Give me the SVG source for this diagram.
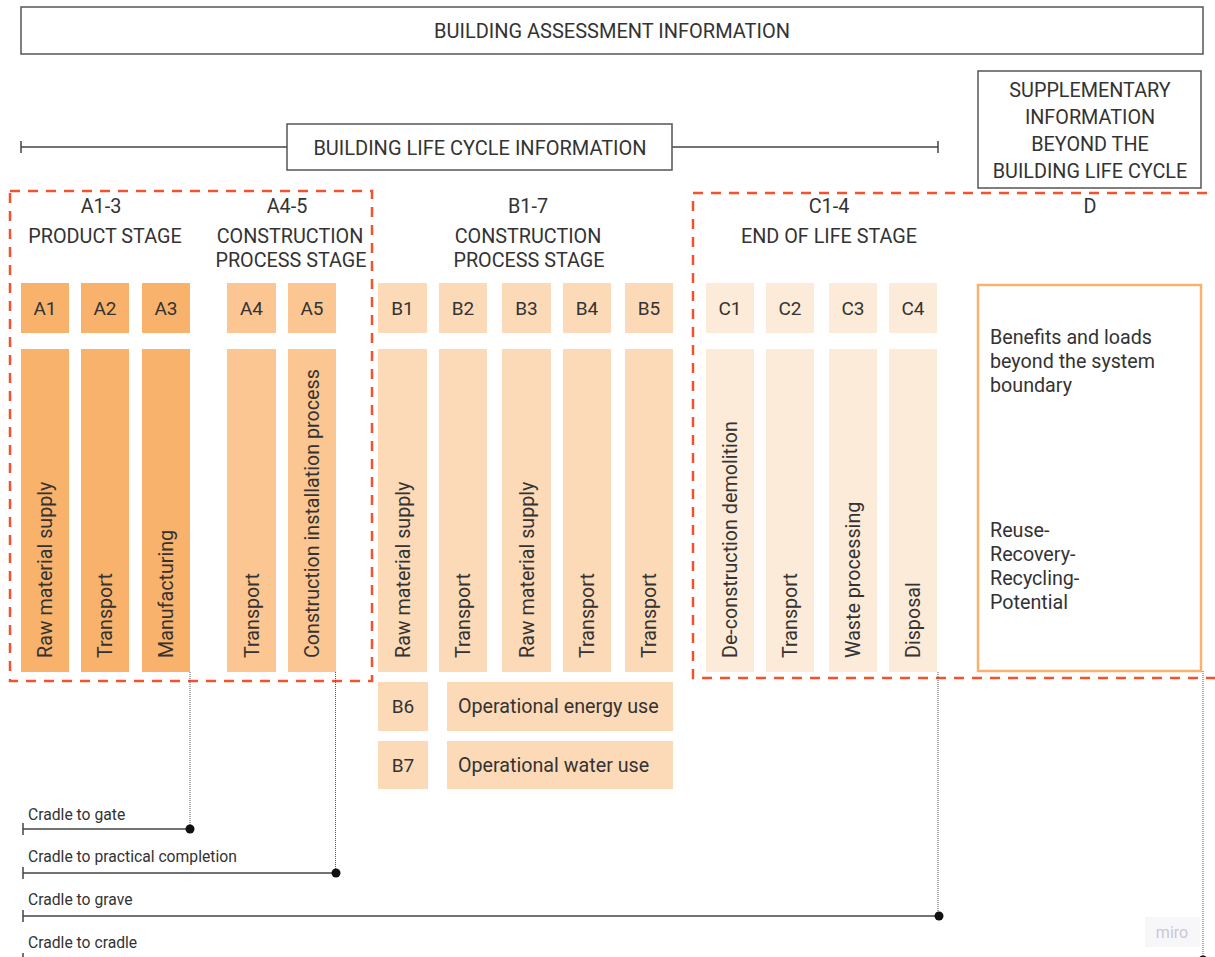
<svg xmlns="http://www.w3.org/2000/svg" width="1215" height="957" viewBox="0 0 1215 957">
<style>
text{font-family:Roboto,"Liberation Sans",sans-serif;fill:#333}
.h{font-size:19.8px;text-anchor:middle}
.t{font-size:19.7px}
.lb{font-size:19px;text-anchor:middle}
.v{font-size:19.7px}
.sm{font-size:15.7px}
.frame{fill:#fff;stroke:#555;stroke-width:1.5}
.ln{stroke:#444;stroke-width:1.5;fill:none}
.dot{stroke:#555;stroke-width:1;stroke-dasharray:1 1;fill:none}
.red{fill:none;stroke:#f4522d;stroke-width:2.5;stroke-dasharray:10 8}
.a1{fill:#f8b26b}
.a4{fill:#fbc691}
.b{fill:#fcdab7}
.c{fill:#fdebd9}
</style>
<rect width="1215" height="957" fill="#fff"/>

<g id="assessment">
<rect class="frame" x="21" y="7" width="1182" height="47"/>
<text class="h" x="612" y="38" style="font-size:20px">BUILDING ASSESSMENT INFORMATION</text>
</g>

<g id="lifecycle">
<line class="ln" x1="21" y1="147" x2="938" y2="147"/>
<line class="ln" x1="21" y1="141" x2="21" y2="153"/>
<line class="ln" x1="938" y1="141" x2="938" y2="153"/>
<rect class="frame" x="287" y="124" width="385" height="46"/>
<text class="h" x="480" y="155" style="font-size:20px">BUILDING LIFE CYCLE INFORMATION</text>
</g>

<g id="supplementary">
<rect class="frame" x="978" y="71" width="223" height="117"/>
<text class="h" x="1090" y="97">SUPPLEMENTARY</text>
<text class="h" x="1090" y="124">INFORMATION</text>
<text class="h" x="1090" y="151">BEYOND THE</text>
<text class="h" x="1090" y="178">BUILDING LIFE CYCLE</text>
</g>

<g id="stage-headers">
<text class="h" x="101" y="213">A1-3</text>
<text class="h" x="105" y="243">PRODUCT STAGE</text>
<text class="h" x="287" y="213">A4-5</text>
<text class="h" x="290" y="243">CONSTRUCTION</text>
<text class="h" x="291" y="267">PROCESS STAGE</text>
<text class="h" x="528" y="213">B1-7</text>
<text class="h" x="528" y="243">CONSTRUCTION</text>
<text class="h" x="529" y="267">PROCESS STAGE</text>
<text class="h" x="829" y="213">C1-4</text>
<text class="h" x="829" y="243">END OF LIFE STAGE</text>
<text class="h" x="1090" y="213">D</text>
</g>

<g id="A-modules">
<rect class="a1" x="21" y="283" width="48" height="50"/><text class="lb" x="45" y="315">A1</text>
<rect class="a1" x="81" y="283" width="48" height="50"/><text class="lb" x="105" y="315">A2</text>
<rect class="a1" x="142" y="283" width="48" height="50"/><text class="lb" x="166" y="315">A3</text>
<rect class="a4" x="227" y="283" width="49" height="50"/><text class="lb" x="251.5" y="315">A4</text>
<rect class="a4" x="288" y="283" width="48" height="50"/><text class="lb" x="312" y="315">A5</text>
<rect class="a1" x="21" y="349" width="48" height="323"/><text class="v" transform="translate(52 658) rotate(-90)">Raw material supply</text>
<rect class="a1" x="81" y="349" width="48" height="323"/><text class="v" transform="translate(112 658) rotate(-90)">Transport</text>
<rect class="a1" x="142" y="349" width="48" height="323"/><text class="v" transform="translate(173 658) rotate(-90)">Manufacturing</text>
<rect class="a4" x="227" y="349" width="49" height="323"/><text class="v" transform="translate(258.5 658) rotate(-90)">Transport</text>
<rect class="a4" x="288" y="349" width="48" height="323"/><text class="v" transform="translate(319 658) rotate(-90)">Construction installation process</text>
</g>

<g id="B-modules">
<rect class="b" x="378" y="283" width="49" height="50"/><text class="lb" x="402.5" y="315">B1</text>
<rect class="b" x="439" y="283" width="48" height="50"/><text class="lb" x="463" y="315">B2</text>
<rect class="b" x="502" y="283" width="49" height="50"/><text class="lb" x="526.5" y="315">B3</text>
<rect class="b" x="563" y="283" width="48" height="50"/><text class="lb" x="587" y="315">B4</text>
<rect class="b" x="625" y="283" width="48" height="50"/><text class="lb" x="649" y="315">B5</text>
<rect class="b" x="378" y="349" width="49" height="323"/><text class="v" transform="translate(409.5 658) rotate(-90)">Raw material supply</text>
<rect class="b" x="439" y="349" width="48" height="323"/><text class="v" transform="translate(470 658) rotate(-90)">Transport</text>
<rect class="b" x="502" y="349" width="49" height="323"/><text class="v" transform="translate(533.5 658) rotate(-90)">Raw material supply</text>
<rect class="b" x="563" y="349" width="48" height="323"/><text class="v" transform="translate(594 658) rotate(-90)">Transport</text>
<rect class="b" x="625" y="349" width="48" height="323"/><text class="v" transform="translate(656 658) rotate(-90)">Transport</text>
<rect class="b" x="378" y="682" width="50" height="49"/><text class="lb" x="403" y="713">B6</text>
<rect class="b" x="447" y="682" width="226" height="49"/><text class="t" x="458" y="713">Operational energy use</text>
<rect class="b" x="378" y="741" width="50" height="48"/><text class="lb" x="403" y="772">B7</text>
<rect class="b" x="447" y="741" width="226" height="48"/><text class="t" x="458" y="772">Operational water use</text>
</g>

<g id="C-modules">
<rect class="c" x="706" y="283" width="48" height="50"/><text class="lb" x="730" y="315">C1</text>
<rect class="c" x="766" y="283" width="48" height="50"/><text class="lb" x="790" y="315">C2</text>
<rect class="c" x="829" y="283" width="48" height="50"/><text class="lb" x="853" y="315">C3</text>
<rect class="c" x="889" y="283" width="48" height="50"/><text class="lb" x="913" y="315">C4</text>
<rect class="c" x="706" y="349" width="48" height="323"/><text class="v" transform="translate(737 658) rotate(-90)">De-construction demolition</text>
<rect class="c" x="766" y="349" width="48" height="323"/><text class="v" transform="translate(797 658) rotate(-90)">Transport</text>
<rect class="c" x="829" y="349" width="48" height="323"/><text class="v" transform="translate(860 658) rotate(-90)">Waste processing</text>
<rect class="c" x="889" y="349" width="48" height="323"/><text class="v" transform="translate(920 658) rotate(-90)">Disposal</text>
</g>

<g id="D-module">
<rect x="978" y="285" width="223" height="386" fill="#fff" stroke="#f9b26e" stroke-width="2.5"/>
<text class="t" x="990" y="344">Benefits and loads</text>
<text class="t" x="990" y="368">beyond the system</text>
<text class="t" x="990" y="392">boundary</text>
<text class="t" x="990" y="537">Reuse-</text>
<text class="t" x="990" y="561">Recovery-</text>
<text class="t" x="990" y="585">Recycling-</text>
<text class="t" x="990" y="609">Potential</text>
</g>

<g id="boundaries">
<rect class="red" x="10" y="191" width="362" height="490"/>
<path class="red" d="M1225 193 H693 V678 H1225"/>
</g>

<g id="connectors">
<line class="dot" x1="190" y1="672" x2="190" y2="829"/>
<line class="dot" x1="335.5" y1="672" x2="335.5" y2="873"/>
<line class="dot" x1="938" y1="672" x2="938" y2="916"/>
<line class="dot" x1="1203" y1="671" x2="1203" y2="957"/>
<text class="sm" x="28" y="820">Cradle to gate</text>
<line class="ln" x1="23" y1="829" x2="190" y2="829"/>
<line class="ln" x1="23" y1="823" x2="23" y2="835"/>
<circle cx="190" cy="829" r="4.5" fill="#111"/>
<text class="sm" x="28" y="862">Cradle to practical completion</text>
<line class="ln" x1="23" y1="873" x2="336" y2="873"/>
<line class="ln" x1="23" y1="867" x2="23" y2="879"/>
<circle cx="336" cy="873" r="4.5" fill="#111"/>
<text class="sm" x="28" y="905">Cradle to grave</text>
<line class="ln" x1="23" y1="916" x2="939" y2="916"/>
<line class="ln" x1="23" y1="910" x2="23" y2="922"/>
<circle cx="939" cy="916" r="4.5" fill="#111"/>
<text class="sm" x="28" y="948">Cradle to cradle</text>
<line class="ln" x1="23" y1="960" x2="1203" y2="960"/>
<line class="ln" x1="23" y1="953" x2="23" y2="966"/>
<circle cx="1203" cy="960" r="4.5" fill="#111"/>
</g>

<g id="watermark">
<rect x="1145" y="917" width="55" height="30" fill="#f7f7f9"/>
<text x="1172" y="938" style="font-size:16px;text-anchor:middle;fill:#c9c9d6">miro</text>
</g>
</svg>
